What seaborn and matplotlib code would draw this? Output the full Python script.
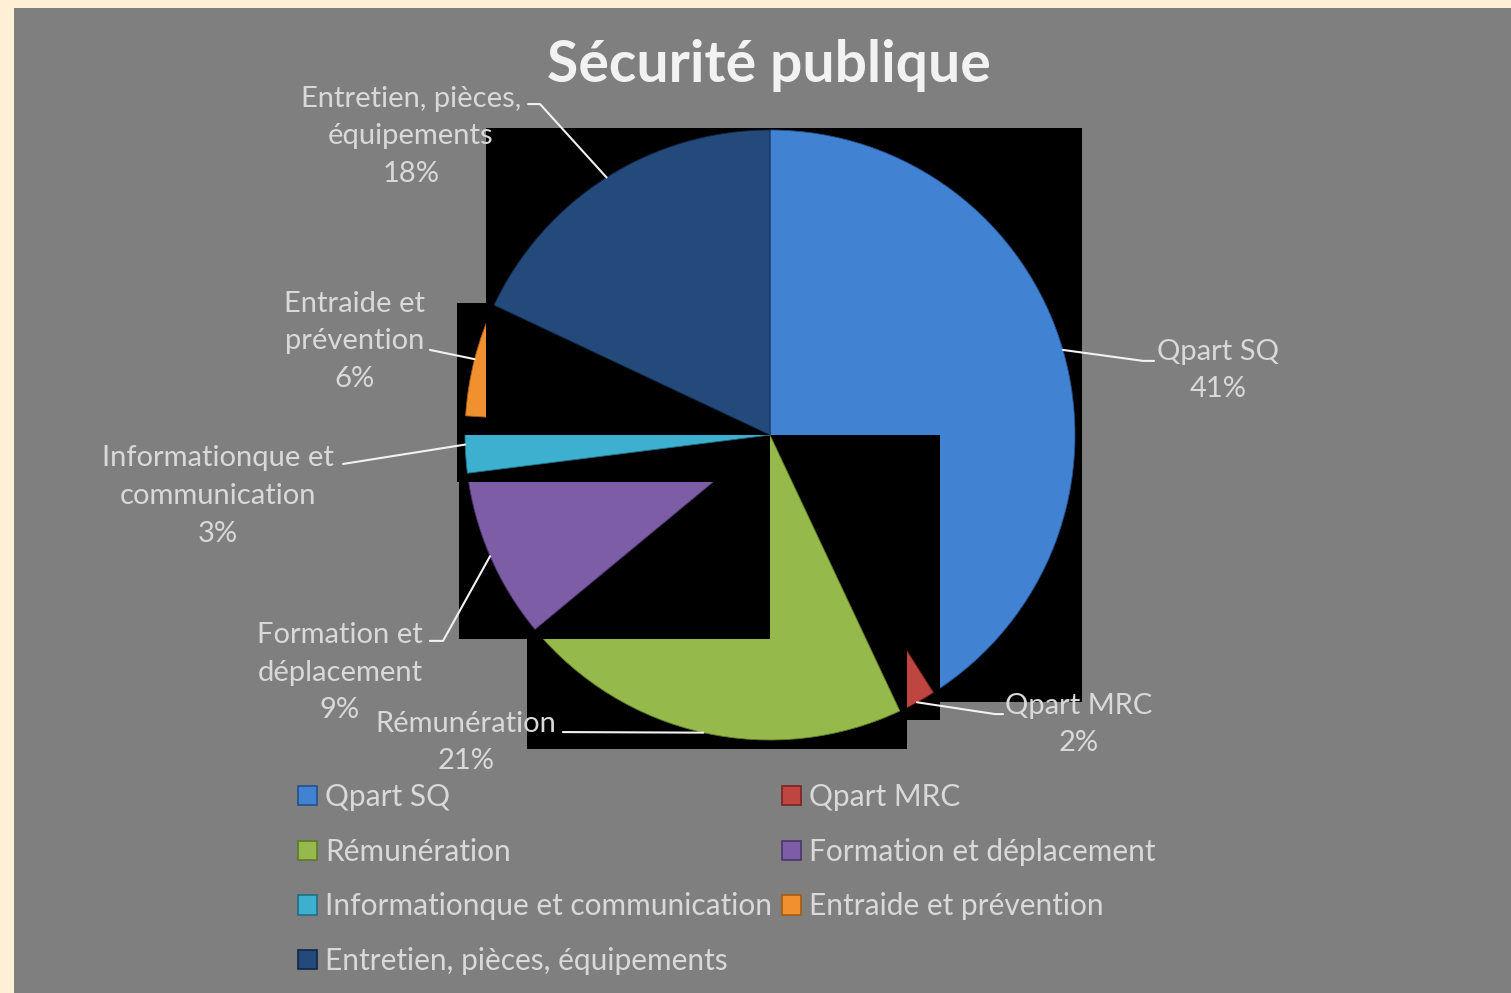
import matplotlib
matplotlib.use("Agg")
import numpy as np
import matplotlib.pyplot as plt
from matplotlib.patches import Rectangle, Patch
import seaborn as sns

# data
categories = ["Qpart SQ", "Qpart MRC", "Rémunération", "Formation et déplacement",
              "Informationque et communication", "Entraide et prévention",
              "Entretien, pièces, équipements"]
wrapped = ["Qpart SQ", "Qpart MRC", "Rémunération", "Formation et\ndéplacement",
           "Informationque et\ncommunication", "Entraide et\nprévention",
           "Entretien, pièces,\néquipements"]
shares = [41, 2, 21, 9, 3, 6, 18]
colors = ["#4182D3", "#BF4541", "#95BA4B", "#7C5DA6", "#3DAFCF", "#F1902F", "#234A7B"]
edges = ["#24508C", "#7A2321", "#5E7A28", "#4B336D", "#1F6F86", "#A65A12", "#0F2744"]

# label placement (pie radius units)
label_xy = [(1.469, 0.211), (1.013, -0.949), (-0.997, -1.008), (-1.410, -0.780),
            (-1.810, -0.200), (-1.361, 0.308), (-1.177, 0.980)]
leader_pts = [[(1.223, 0.243), (1.259, 0.243)],
              [(0.738, -0.915), (0.764, -0.915)],
              [(-0.679, -0.974)],
              [(-1.072, -0.675), (-1.115, -0.675)],
              [(-1.400, -0.095)],
              [(-1.115, 0.279)],
              [(-0.754, 1.085), (-0.793, 1.085)]]

sns.set_style("white")
plt.rcParams["font.family"] = ["Lato", "DejaVu Sans"]

W, H = 1511, 993
fig = plt.figure(figsize=(W / 100, H / 100), dpi=100)
fig.patch.set_facecolor("#FFEFD6")
fig.patches.append(Rectangle((14 / W, 0), 1 - 14 / W, 985 / H, transform=fig.transFigure,
                             facecolor="#7F7F7F", edgecolor="none", zorder=-10))

cx, cy, R = 770, 435, 305
lim = 1.1
ra = lim * R
ax = fig.add_axes([(cx - ra) / W, (H - cy - ra) / H, 2 * ra / W, 2 * ra / H])

wedges, _ = ax.pie(shares, colors=colors, startangle=90, counterclock=False, radius=1,
                   wedgeprops=dict(linewidth=0.6))
ax.set_xlim(-lim, lim)
ax.set_ylim(-lim, lim)
ax.set_aspect("equal")
ax.axis("off")


def pad(v, p):
    # no shadow margin along the straight edges through the centre
    return 0.0 if abs(v) < 1e-6 else p


# black shadow boxes behind each slice, as in the source rendering
for i, w in enumerate(wedges):
    w.set_edgecolor(edges[i])
    w.set_zorder(2 * i + 2)
    w.set_clip_on(False)
    bb = w.get_path().get_extents()
    x0 = bb.x0 - pad(bb.x0, 0.027)
    x1 = bb.x1 + pad(bb.x1, 0.022)
    y0 = bb.y0 - pad(bb.y0, 0.03)
    y1 = bb.y1 + pad(bb.y1, 0.008)
    ax.add_patch(Rectangle((x0, y0), x1 - x0, y1 - y0, facecolor="black",
                           edgecolor="none", zorder=2 * i + 1, clip_on=False))

total = sum(shares)
for i, w in enumerate(wedges):
    mid = np.deg2rad((w.theta1 + w.theta2) / 2)
    pts = [(np.cos(mid), np.sin(mid))] + leader_pts[i]
    xs, ys = zip(*pts)
    ax.plot(xs, ys, color="#F2F2F2", lw=1.5, zorder=30, clip_on=False)
    pct = round(shares[i] / total * 100)
    ax.text(label_xy[i][0], label_xy[i][1], f"{wrapped[i]}\n{pct}%", ha="center",
            va="center", multialignment="center", color="#D9D9D9", fontsize=21,
            linespacing=1.55, zorder=31, clip_on=False)

fig.text(769 / W, 1 - 66 / H, "Sécurité publique", ha="center", va="center",
         color="#F2F2F2", fontsize=41, fontweight="bold")

handles = [Patch(facecolor=colors[i], edgecolor=edges[i], linewidth=1.2)
           for i in range(len(categories))]
cols = [[0, 2, 4, 6], [1, 3, 5]]
for xpix, idx in zip([298, 782], cols):
    fig.legend([handles[i] for i in idx], [categories[i] for i in idx],
               loc="upper left", bbox_to_anchor=(xpix / W, 1 - 783 / H),
               frameon=False, fontsize=21.5, labelcolor="#D9D9D9",
               handlelength=0.62, handleheight=0.62, handletextpad=0.3,
               labelspacing=0.895, borderpad=0, borderaxespad=0)

fig.savefig("out.png", dpi=100, facecolor=fig.get_facecolor())
